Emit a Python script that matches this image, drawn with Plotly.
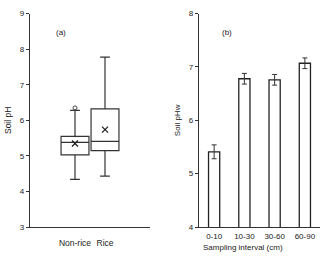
import plotly.graph_objects as go

# Panel (a): box plot summary statistics
groups = ["Non-rice", "Rice"]
q1 = [5.03, 5.15]
median = [5.38, 5.41]
q3 = [5.55, 6.32]
lower = [4.34, 4.43]
upper = [6.28, 7.78]
means = [5.35, 5.74]
outliers_y = [6.35]

# Panel (b): bar chart
intervals = ["0-10", "10-30", "30-60", "60-90"]
ph_w = [5.41, 6.78, 6.76, 7.07]
ph_err = [0.13, 0.10, 0.10, 0.10]

pos = [1.5, 2.5]
FONT = "Liberation Sans"
fig = go.Figure()

for i in range(2):
    fig.add_trace(go.Box(
        x=[pos[i]], q1=[q1[i]], median=[median[i]], q3=[q3[i]],
        lowerfence=[lower[i]], upperfence=[upper[i]],
        width=0.93, whiskerwidth=0.35,
        fillcolor="white", line=dict(color="#333333", width=1.2),
        boxpoints=False, showlegend=False, xaxis="x", yaxis="y"))

fig.add_trace(go.Scatter(
    x=pos, y=means, mode="markers",
    marker=dict(symbol="x-thin", size=6, color="#222222",
                line=dict(color="#222222", width=1.3)),
    showlegend=False, xaxis="x", yaxis="y"))
fig.add_trace(go.Scatter(
    x=[pos[0]], y=outliers_y, mode="markers",
    marker=dict(symbol="circle-open", size=4, color="#444444",
                line=dict(color="#444444", width=1)),
    showlegend=False, xaxis="x", yaxis="y"))

fig.add_trace(go.Bar(
    x=intervals, y=ph_w, width=0.37,
    marker=dict(color="white", line=dict(color="#222222", width=1.3)),
    error_y=dict(type="data", array=ph_err, color="#333333", thickness=1, width=2.5),
    showlegend=False, xaxis="x2", yaxis="y2"))

W, H = 320, 261
def px(x):
    return x / W
def py(y):
    return (H - y) / H

axis_common = dict(showline=True, linecolor="#333333", linewidth=1.3,
                   showgrid=False, zeroline=False,
                   tickfont=dict(family=FONT, size=8, color="#222222"))

def label(text, x, y, size=8):
    return dict(text=text, x=px(x), y=py(y), xref="paper", yref="paper",
                xanchor="center", yanchor="middle", showarrow=False,
                font=dict(family=FONT, size=size, color="#222222"))

fig.update_layout(
    width=W, height=H,
    margin=dict(l=0, r=0, t=0, b=0),
    paper_bgcolor="white", plot_bgcolor="white",
    font=dict(family=FONT, size=8, color="#222222"),
    xaxis=dict(domain=[px(30), px(150)], range=[0, 4],
               tickvals=pos, ticktext=groups, ticks="", ticklen=0,
               ticklabelstandoff=8,
               tickfont=dict(family=FONT, size=8.5, color="#222222"),
               **{k: v for k, v in axis_common.items() if k != "tickfont"}),
    yaxis=dict(domain=[py(231), py(10)], range=[3, 9], dtick=1,
               ticks="outside", ticklen=3, tickcolor="#333333",
               title=dict(text="Soil pH", font=dict(family=FONT, size=8.5), standoff=6),
               **axis_common),
    xaxis2=dict(domain=[px(199), px(320)], range=[-0.5, 3.5],
                ticks="", anchor="y2", ticklabelstandoff=1,
                **axis_common),
    yaxis2=dict(domain=[py(231), py(10)], range=[4, 8], dtick=1,
                ticks="outside", ticklen=3, tickcolor="#333333", anchor="x2",
                title=dict(text="Soil pHw", font=dict(family=FONT, size=8), standoff=6),
                **axis_common),
    annotations=[
        label("(a)", 61, 29),
        label("(b)", 227, 29),
        label("Sampling interval (cm)", 243, 252),
    ],
)

fig.write_html("out.html", config={"displayModeBar": False},
               post_script="document.body.style.margin='0';document.body.style.overflow='hidden';")
